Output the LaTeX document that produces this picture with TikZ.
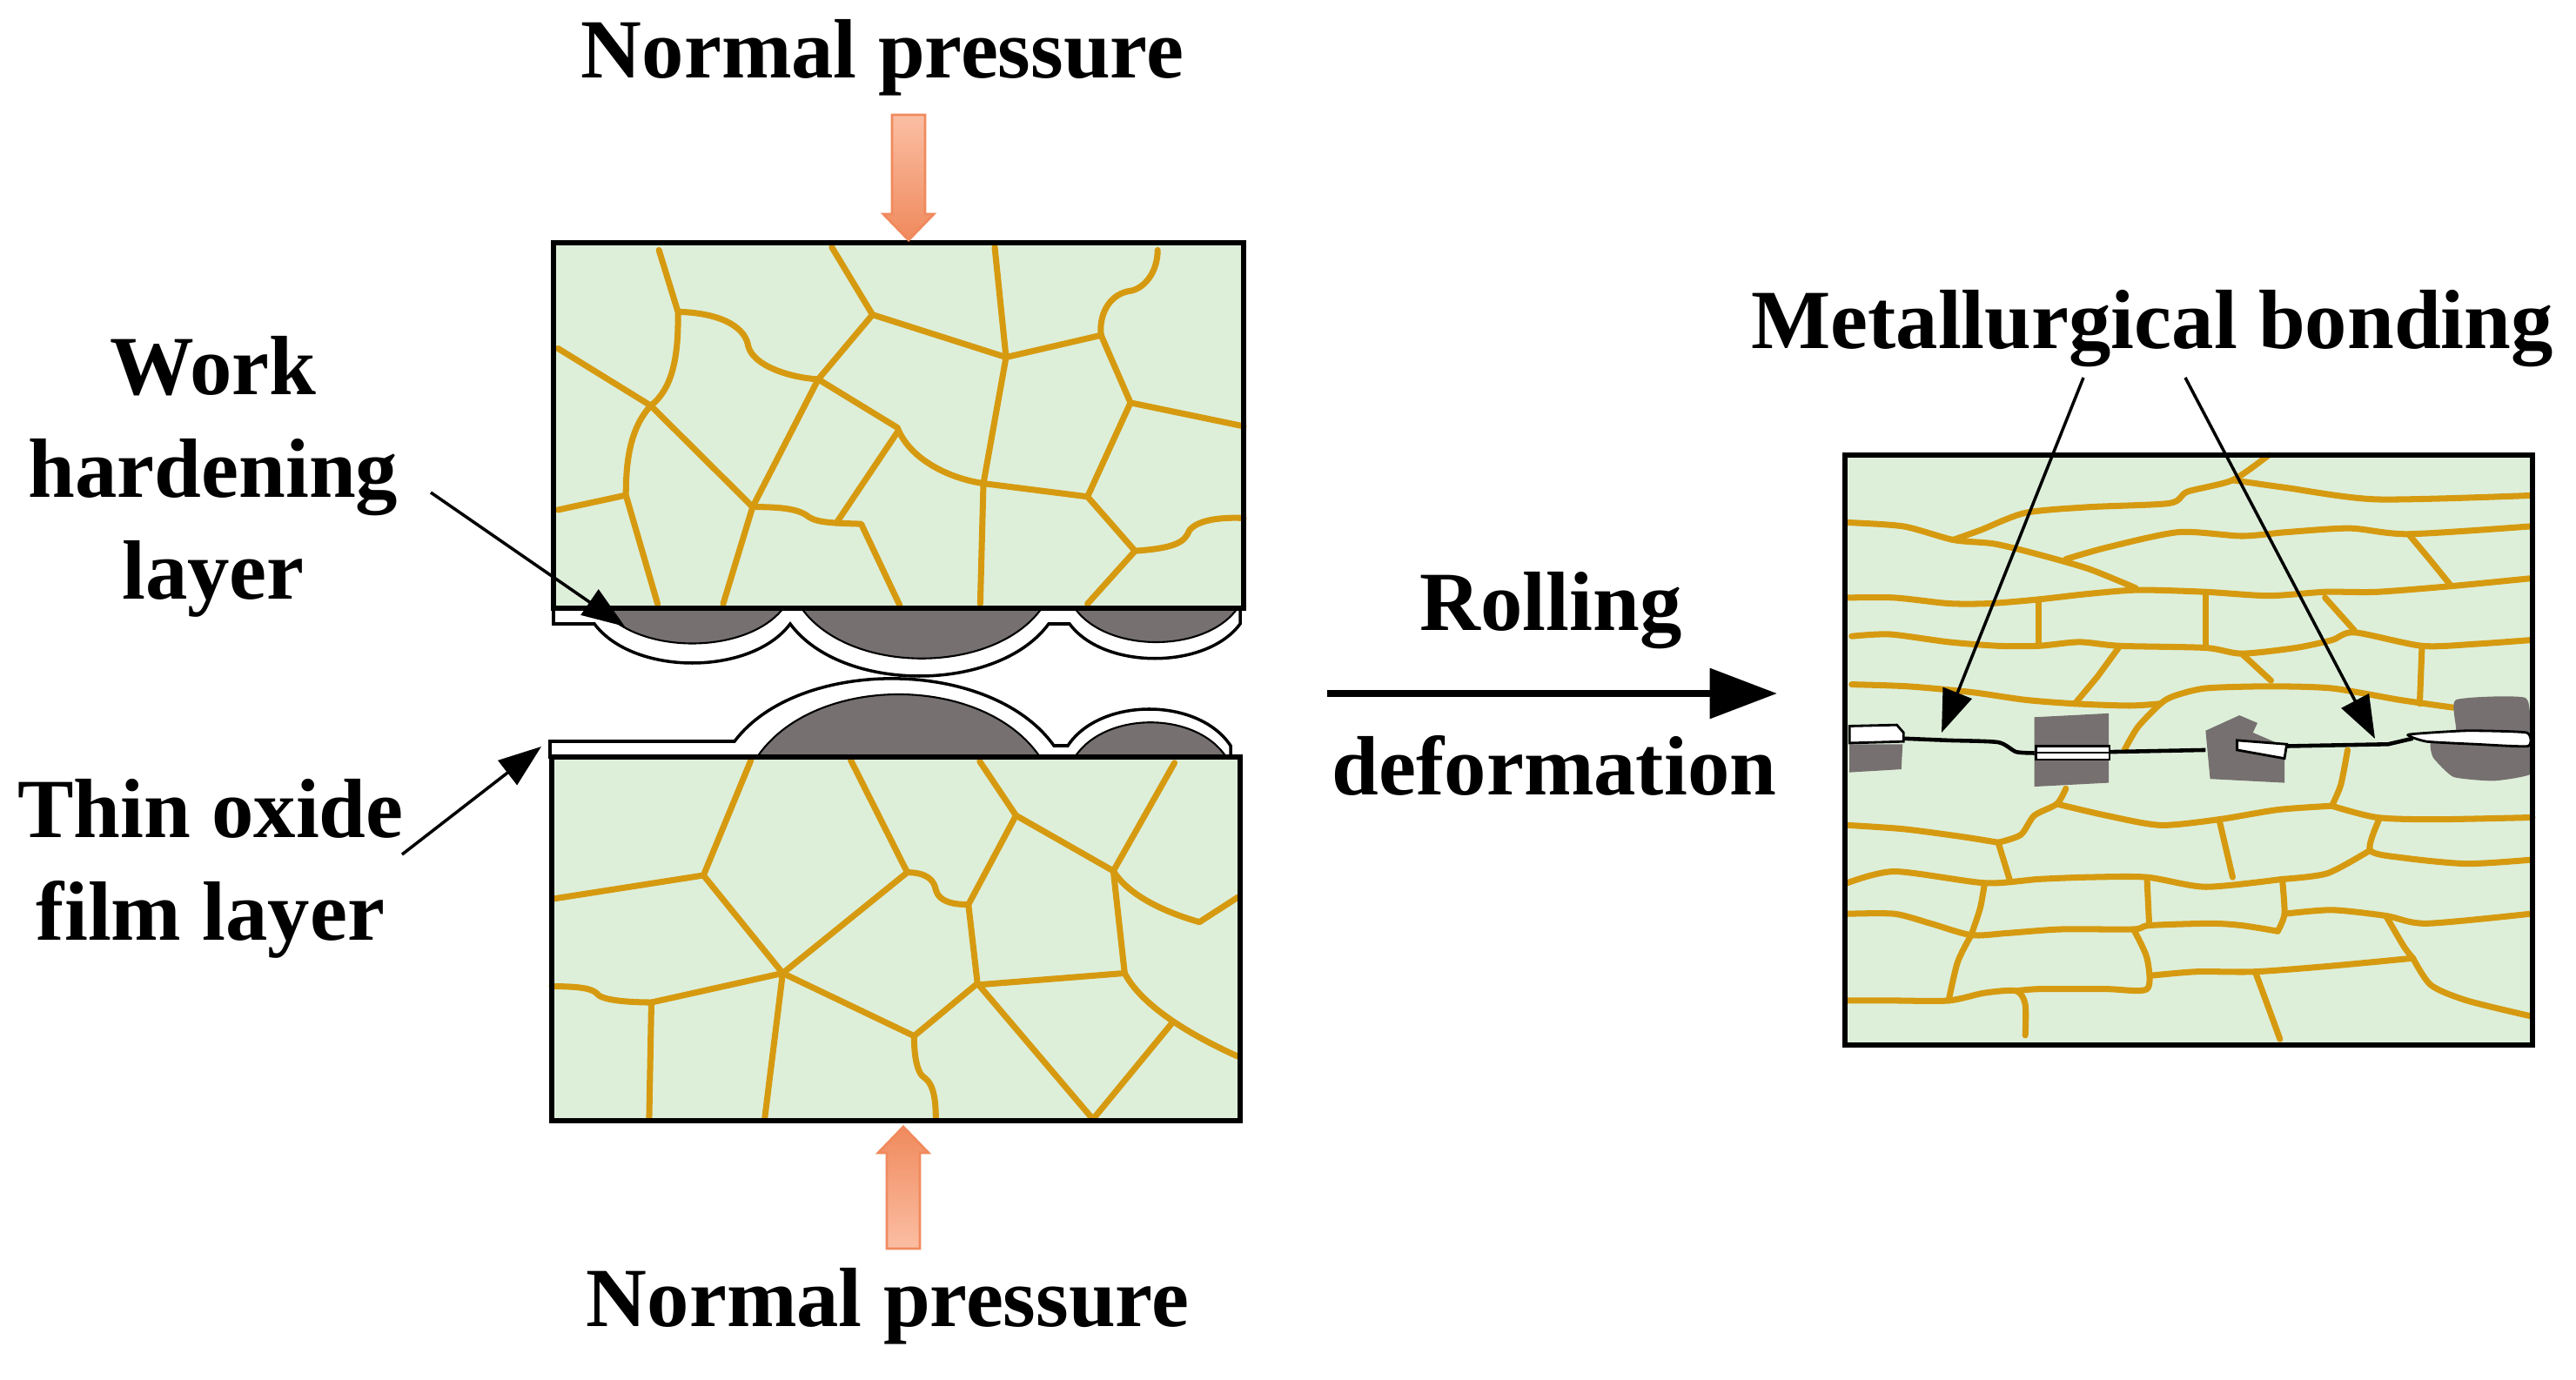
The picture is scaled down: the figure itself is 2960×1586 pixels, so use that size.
\documentclass[tikz,border=0pt]{standalone}
\usepackage{fontspec}
\setmainfont{Liberation Serif}
\usetikzlibrary{arrows.meta}
\definecolor{grainfill}{HTML}{DDEFD9}
\definecolor{grain}{HTML}{D69A10}
\definecolor{oxide}{HTML}{767070}
\definecolor{orangeA}{HTML}{F9A27C}
\definecolor{orangeB}{HTML}{F08A5D}
\tikzset{
  lbl/.style={font=\bfseries\fontsize{27.5}{33.5}\selectfont, align=center, inner sep=0pt},
  gb/.style={draw=grain, line width=2pt, line join=round, line cap=round},
  blockbox/.style={draw=black, line width=1.8pt},
  ptr/.style={draw=black, line width=1pt, -{Triangle[length=14pt,width=10pt]}},
}
\begin{document}
\begin{tikzpicture}[x=0.01cm,y=-0.01cm]
\useasboundingbox (0,0) rectangle (2960,1586);

% ---------------- top block ----------------
\fill[grainfill] (636,279) rectangle (1429,699);
\begin{scope}[shift={(628.2,272.3)}, xscale=0.52, yscale=0.3373]
\draw[gb] (248,45) -- (290,255) .. controls (292,420) and (275,520) .. (230,575);
\draw[gb] (290,255) .. controls (400,260) and (440,320) .. (445,370) .. controls (455,440) and (540,480) .. (600,485);
\draw[gb] (25,380) -- (230,575);
\draw[gb] (230,575) .. controls (185,650) and (175,760) .. (175,880) -- (245,1250);
\draw[gb] (25,930) -- (175,880);
\draw[gb] (230,575) -- (455,920);
\draw[gb] (630,35) -- (720,265) -- (600,485) -- (455,920) -- (390,1250);
\draw[gb] (455,920) .. controls (530,920) and (560,930) .. (580,955) .. controls (600,975) and (640,975) .. (695,978) -- (780,1255);
\draw[gb] (640,975) -- (775,665);
\draw[gb] (600,485) -- (775,650) .. controls (800,750) and (880,820) .. (965,840);
\draw[gb] (720,265) -- (1015,410);
\draw[gb] (990,35) -- (1015,410) -- (965,840) -- (958,1250);
\draw[gb] (1015,410) -- (1225,335);
\draw[gb] (1350,45) .. controls (1350,120) and (1320,180) .. (1285,185) .. controls (1240,200) and (1220,270) .. (1225,335) -- (1290,565) -- (1540,645);
\draw[gb] (1290,565) -- (1195,885);
\draw[gb] (965,840) -- (1195,885) -- (1300,1070) -- (1195,1250);
\draw[gb] (1300,1070) .. controls (1390,1060) and (1410,1040) .. (1420,1000) .. controls (1440,960) and (1500,955) .. (1540,958);
\end{scope}
% film and hardening layer (top)
\draw[fill=white, line width=1pt] (636,699) -- (636,717) -- (683,717)
  .. controls (728,777) and (863,777) .. (908,717)
  .. controls (967,797) and (1146,797) .. (1205,717) -- (1229,717)
  .. controls (1268,770) and (1386,770) .. (1425,717) -- (1425,699) -- cycle;
\draw[fill=oxide, line width=0.6pt] (691,699) .. controls (733,753) and (858,753) .. (900,699);
\draw[fill=oxide, line width=0.6pt] (921,699) .. controls (976,776) and (1142,776) .. (1197,699);
\draw[fill=oxide, line width=0.6pt] (1235,699) .. controls (1272,751) and (1385,751) .. (1422,699);
\draw[blockbox] (636,279) rectangle (1429,699);

% ---------------- bottom block ----------------
\fill[grainfill] (634,870) rectangle (1425,1288);
\begin{scope}[shift={(623.6,858.3)}, xscale=0.5204, yscale=0.3357]
\draw[gb] (460,45) -- (355,440) -- (530,775);
\draw[gb] (25,520) -- (355,440);
\draw[gb] (680,45) -- (805,430);
\draw[gb] (805,430) .. controls (850,430) and (865,460) .. (868,490) .. controls (875,530) and (905,540) .. (940,540);
\draw[gb] (805,430) -- (530,775);
\draw[gb] (20,820) .. controls (90,820) and (110,830) .. (120,845) .. controls (130,870) and (200,875) .. (240,875) -- (530,775);
\draw[gb] (240,875) -- (235,1275);
\draw[gb] (530,775) -- (490,1275);
\draw[gb] (530,775) -- (820,990) -- (960,810);
\draw[gb] (820,990) .. controls (820,1050) and (825,1120) .. (845,1135) .. controls (865,1160) and (868,1220) .. (868,1275);
\draw[gb] (965,50) -- (1045,235) -- (940,540) -- (960,810);
\draw[gb] (1045,235) -- (1260,425) -- (1395,55);
\draw[gb] (1260,425) .. controls (1290,500) and (1360,560) .. (1450,600) -- (1535,515);
\draw[gb] (1260,425) -- (1285,775) -- (960,815);
\draw[gb] (1285,775) .. controls (1320,880) and (1420,980) .. (1535,1060);
\draw[gb] (960,810) -- (1215,1275) -- (1390,945);
\end{scope}
\draw[fill=white, line width=1pt] (632,870) -- (632,852) -- (844,852)
  .. controls (917,755) and (1138,755) .. (1211,857) -- (1227,857)
  .. controls (1264,801) and (1377,801) .. (1414,857) -- (1414,870) -- cycle;
\draw[fill=oxide, line width=0.6pt] (870,870) .. controls (935,774) and (1130,774) .. (1195,870);
\draw[fill=oxide, line width=0.6pt] (1235,870) .. controls (1270,817) and (1374,817) .. (1409,870);
\draw[blockbox] (634,870) rectangle (1425,1288);

% ---------------- right block ----------------
\fill[grainfill] (2120,523) rectangle (2910,1201);
\begin{scope}[shift={(2109.6,511.9)}, xscale=0.518, yscale=0.4431]
\draw[gb] plot[smooth, tension=0.45] coordinates {(25,200) (150,210) (260,245) (350,255) (440,280) (560,320) (665,370)};
\draw[gb] plot[smooth, tension=0.45] coordinates {(260,245) (320,220) (420,175) (560,160) (740,150) (780,120) (880,90) (960,25)};
\draw[gb] plot[smooth, tension=0.45] coordinates {(880,90) (1000,110) (1200,140) (1540,130)};
\draw[gb] plot[smooth, tension=0.45] coordinates {(510,295) (600,265) (760,225) (900,235) (1000,225) (1140,215) (1270,230) (1540,210)};
\draw[gb] plot[smooth, tension=0.45] coordinates {(1270,230) (1320,300) (1365,365)};
\draw[gb] plot[smooth, tension=0.45] coordinates {(25,395) (130,395) (250,410) (340,410) (445,400) (560,385) (670,375) (820,380) (960,390) (1085,380) (1200,380) (1365,365) (1540,345)};
\draw[gb] (450,400) -- (450,520);
\draw[gb] (820,380) -- (820,525);
\draw[gb] (1085,395) -- (1150,480);
\draw[gb] plot[smooth, tension=0.45] coordinates {(35,495) (120,490) (250,510) (360,520) (450,520) (540,510) (630,520) (820,525) (900,540) (1020,525) (1100,505) (1150,485) (1300,520) (1420,515) (1540,505)};
\draw[gb] (630,520) -- (580,600) -- (530,670);
\draw[gb] (900,540) -- (965,610);
\draw[gb] (1300,520) -- (1295,670);
\draw[gb] plot[smooth, tension=0.45] coordinates {(35,620) (160,625) (300,640) (420,660) (530,670) (650,675) (720,670)};
\draw[gb] plot[smooth, tension=0.45] coordinates {(1370,680) (1250,660) (1100,630) (960,625) (820,630) (750,650) (720,670) (670,730) (640,790)};
\draw[gb] plot[smooth, tension=0.45] coordinates {(1135,790) (1120,880) (1100,935)};
\draw[gb] plot[smooth, tension=0.45] coordinates {(510,890) (490,930) (440,960) (410,1010) (360,1030)};
\draw[gb] plot[smooth, tension=0.45] coordinates {(490,930) (600,960) (720,985) (850,970) (980,945) (1100,935)};
\draw[gb] plot[smooth, tension=0.45] coordinates {(1100,935) (1200,965) (1330,970) (1545,965)};
\draw[gb] plot[smooth, tension=0.45] coordinates {(25,985) (150,995) (280,1015) (360,1030)};
\draw[gb] (360,1030) -- (385,1125);
\draw[gb] (850,970) -- (880,1120);
\draw[gb] plot[smooth, tension=0.45] coordinates {(1205,970) (1185,1050) (1260,1070) (1400,1085) (1540,1075)};
\draw[gb] plot[smooth, tension=0.45] coordinates {(1185,1050) (1090,1110) (990,1125)};
\draw[gb] plot[smooth, tension=0.45] coordinates {(25,1135) (130,1105) (330,1135) (450,1125) (560,1120) (690,1120) (820,1145) (990,1125)};
\draw[gb] plot[smooth, tension=0.45] coordinates {(330,1135) (320,1200) (300,1270)};
\draw[gb] (690,1125) -- (695,1245);
\draw[gb] plot[smooth, tension=0.45] coordinates {(990,1125) (995,1215) (980,1260)};
\draw[gb] plot[smooth, tension=0.45] coordinates {(25,1215) (130,1215) (210,1240) (300,1270) (380,1265) (500,1255) (660,1255) (695,1245) (830,1240) (900,1245) (980,1260)};
\draw[gb] plot[smooth, tension=0.45] coordinates {(995,1215) (1100,1205) (1220,1220) (1310,1240) (1540,1215)};
\draw[gb] plot[smooth, tension=0.45] coordinates {(1220,1220) (1260,1300) (1280,1330)};
\draw[gb] plot[smooth, tension=0.45] coordinates {(300,1270) (270,1340) (250,1440)};
\draw[gb] plot[smooth, tension=0.45] coordinates {(660,1255) (690,1330) (690,1410) (600,1410) (450,1410) (400,1415)};
\draw[gb] plot[smooth, tension=0.45] coordinates {(700,1375) (800,1365) (930,1365) (1100,1350) (1280,1330)};
\draw[gb] plot[smooth, tension=0.45] coordinates {(25,1440) (130,1440) (250,1440) (330,1420) (400,1415) (420,1450) (420,1530)};
\draw[gb] plot[smooth, tension=0.45] coordinates {(930,1365) (960,1460) (985,1540)};
\draw[gb] plot[smooth, tension=0.45] coordinates {(1280,1330) (1320,1400) (1400,1440) (1540,1480)};
% bonding line
\draw[line width=1.3pt] plot[smooth, tension=0.4] coordinates {(145,760) (250,765) (360,770) (400,795) (445,798)};
\draw[line width=1.3pt] (605,795) -- (820,790);
\draw[line width=1.3pt] (1000,780) -- (1225,775) -- (1280,760);
% inclusions
\fill[oxide] (30,775) -- (148,775) -- (145,840) -- (30,848) -- cycle;
\draw[fill=white, line width=0.8pt] (30,728) -- (135,725) -- (150,745) -- (150,768) -- (30,772) -- cycle;
\fill[oxide] (440,705) -- (605,695) -- (605,875) -- (440,885) -- cycle;
\draw[fill=white, line width=0.8pt] (443,780) rectangle (607,815);
\draw[line width=0.8pt] (443,797) -- (607,797);
\fill[oxide] (820,740) -- (895,700) -- (935,720) -- (925,745) -- (995,780) -- (995,875) -- (830,865) -- cycle;
\draw[fill=white, line width=0.8pt] (890,765) -- (1000,775) -- (995,812) -- (890,790) -- cycle;
\fill[oxide] plot[smooth cycle, tension=0.3] coordinates {(1375,660) (1530,655) (1540,760) (1545,850) (1460,870) (1370,860) (1325,810) (1320,770) (1375,745)};
\draw[fill=white, line width=0.8pt] plot[smooth cycle, tension=0.3] coordinates {(1270,750) (1400,740) (1532,745) (1535,780) (1420,775) (1310,768)};
\end{scope}
\draw[blockbox] (2120,523) rectangle (2910,1201);

% ---------------- orange pressure arrows ----------------
\draw[draw=orangeB, line width=0.8pt, top color=orangeA!70, bottom color=orangeB]
  (1025,132) -- (1063,132) -- (1063,246) -- (1073,246) -- (1044,276) -- (1015,246) -- (1025,246) -- cycle;
\draw[draw=orangeB, line width=0.8pt, bottom color=orangeA!70, top color=orangeB]
  (1019,1435) -- (1057,1435) -- (1057,1325) -- (1067,1325) -- (1038,1295) -- (1009,1325) -- (1019,1325) -- cycle;

% ---------------- labels ----------------
\node[lbl] (np1) at (1014,66) {Normal pressure};
\node[lbl] (np2) at (1020,1501) {Normal pressure};
\node[lbl] (whl) at (245,548) {Work\\hardening\\layer};
\node[lbl] (tof) at (242,998) {Thin oxide\\film layer};
\node[lbl] (rol) at (1782,702) {Rolling};
\node[lbl] (def) at (1786,880) {deformation};
\node[lbl] (mb) at (2473,378) {Metallurgical bonding};

\coordinate (whlS) at (495,566);
\coordinate (whlT) at (718,720);
\coordinate (tofS) at (462,982);
\coordinate (tofT) at (622,858);
\coordinate (rolS) at (1525,797);
\coordinate (rolT) at (2042,797);
\coordinate (mbS1) at (2394,434);
\coordinate (mbT1) at (2231,842);
\coordinate (mbS2) at (2511,434);
\coordinate (mbT2) at (2729,849);

\draw[ptr] (whlS) -- (whlT);
\draw[ptr] (tofS) -- (tofT);
\draw[line width=2.4pt, -{Triangle[length=22pt,width=16pt]}] (rolS) -- (rolT);
\draw[ptr] (mbS1) -- (mbT1);
\draw[ptr] (mbS2) -- (mbT2);
\end{tikzpicture}
\end{document}
